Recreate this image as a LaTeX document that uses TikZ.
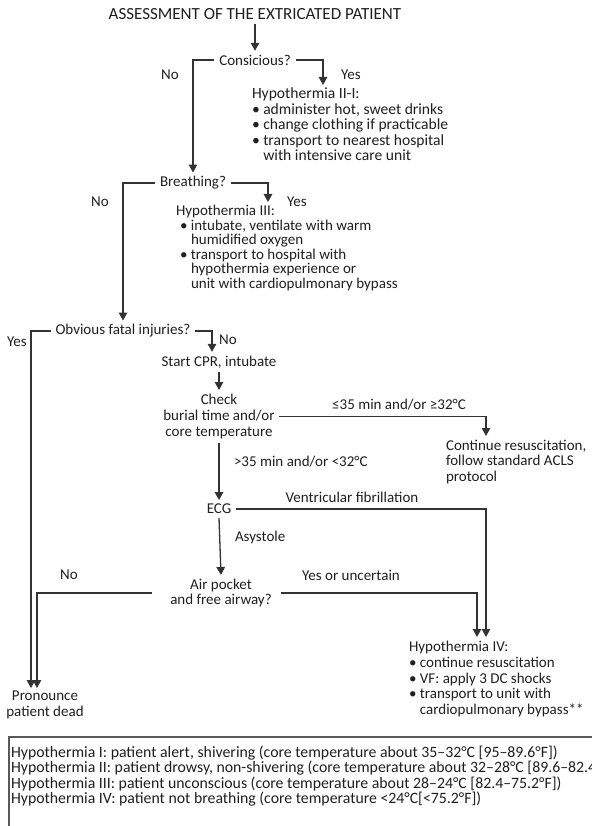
\documentclass[tikz,border=0pt]{standalone}
\usepackage{fontspec}
\setmainfont{Carlito}
\usetikzlibrary{arrows.meta}
\newcommand\hbul{•\hspace{3.5pt}}
\begin{document}
\begin{tikzpicture}[x=1pt,y=-1pt,
  every node/.style={font=\fontsize{15}{15.3}\selectfont, text=black!88, inner sep=0pt, outer sep=0pt},
  blk/.style={anchor=north west, align=left},
  cblk/.style={anchor=north, align=center},
  dec/.style={inner xsep=5pt, inner ysep=4pt},
  ln/.style={draw=black!80, line width=1.3pt},
  arr/.style={ln, -{Triangle[width=8.5pt,length=8pt]}}]
\useasboundingbox (0,0) rectangle (591,826);

% nodes
\node[dec, font=\fontsize{17}{18}\selectfont] (title) at (255,14) {ASSESSMENT OF THE EXTRICATED PATIENT};
\node[dec] (consc) at (255,60) {Consicious?};
\node[blk, font=\fontsize{15.6}{15.4}\selectfont] (h21) at (252,88) {Hypothermia II-I:\\\hbul administer hot, sweet drinks\\\hbul change clothing if practicable\\\hbul transport to nearest hospital\\\phantom{\hbul}with intensive care unit};
\node[dec] (breath) at (193,183) {Breathing?};
\node[blk, font=\fontsize{15}{14.6}\selectfont] (h3) at (176,205) {Hypothermia III:\\\hspace{4pt}\hbul intubate, ventilate with warm\\\hspace{15pt}humidified oxygen\\\hspace{4pt}\hbul transport to hospital with\\\hspace{15pt}hypothermia experience or\\\hspace{15pt}unit with cardiopulmonary bypass};
\node[dec] (fatal) at (123,331) {Obvious fatal injuries?};
\node[dec] (cpr) at (219,362) {Start CPR, intubate};
\node[cblk, inner sep=4pt, font=\fontsize{15}{16}\selectfont] (check) at (219,390) {Check\\burial time and/or\\core temperature};
\node[blk, font=\fontsize{15}{15.5}\selectfont] (cont) at (446,440) {Continue resuscitation,\\follow standard ACLS\\protocol};
\node[dec] (ecg) at (219,509) {ECG};
\node[cblk, inner xsep=9pt, inner ysep=4pt] (air) at (221,575) {Air pocket\\and free airway?};
\node[cblk, inner sep=3pt, font=\fontsize{15}{16}\selectfont] (dead) at (45,688) {Pronounce\\patient dead};
\node[blk, font=\fontsize{15}{15.8}\selectfont] (h4) at (409,641) {Hypothermia IV:\\\hbul continue resuscitation\\\hbul VF: apply 3 DC shocks\\\hbul transport to unit with\\\phantom{\hbul}cardiopulmonary bypass**};

% labels
\node (l1) at (170,75) {No};
\node (l2) at (351,75) {Yes};
\node (l3) at (100,202) {No};
\node (l4) at (297,202) {Yes};
\node (l5) at (17,342) {Yes};
\node (l6) at (228,340) {No};
\node (l7) at (399,405) {≤35 min and/or ≥32°C};
\node[anchor=west] (l8) at (234,462) {>35 min and/or <32°C};
\node (l9) at (352,497) {Ventricular fibrillation};
\node[anchor=west] (l10) at (235,537) {Asystole};
\node (l11) at (69,575) {No};
\node (l12) at (351,575) {Yes or uncertain};

% connectors
\draw[arr] (title.south) -- (title.south |- consc.north);
\draw[arr] (consc.west) -| (breath.north);
\draw[arr] (consc.east) -| ([xshift=71pt,yshift=3pt]h21.north west);
\draw[arr] (breath.west) -| (fatal.north);
\draw[arr] (breath.east) -| ([xshift=92pt,yshift=3pt]h3.north west);
\draw[arr] (fatal.west) -| ([xshift=-14pt]dead.north);
\draw[arr] (fatal.east) -| ([xshift=-7pt]cpr.north);
\draw[arr] (cpr.south) -- (check.north);
\draw[arr] (check.east) -| ([xshift=40pt,yshift=4pt]cont.north west);
\draw[arr] (check.south) -- (ecg.north);
\draw[arr] (ecg.east) -| ([xshift=77pt,yshift=4pt]h4.north west);
\draw[arr] (ecg.south) -- (air.north);
\draw[arr] (air.east) -| ([xshift=68pt,yshift=4pt]h4.north west);
\draw[arr] ([xshift=-9pt]air.west) -| ([xshift=-8pt]dead.north);

% legend
\draw[draw=black!65, line width=1.5pt] (9,737) rectangle (760,860);
\node[blk, font=\fontsize{15.8}{13.8}\selectfont] (legend) at (11,746) {Hypothermia I: patient alert, shivering (core temperature about 35–32°C [95–89.6°F])\\Hypothermia II: patient drowsy, non-shivering (core temperature about 32–28°C [89.6–82.4°F])\\Hypothermia III: patient unconscious (core temperature about 28–24°C [82.4–75.2°F])\\Hypothermia IV: patient not breathing (core temperature <24°C[<75.2°F])};
\end{tikzpicture}
\end{document}
